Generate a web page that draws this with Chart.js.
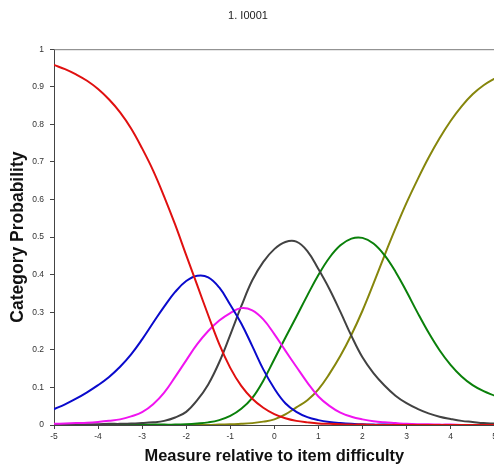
<!DOCTYPE html>
<html lang="en">
  <head>
    <meta charset="UTF-8" />
    <title>1. I0001 - Category Probability</title>
  </head>
  <style>
    * {
      margin: 0;
      padding: 0;
    }
    body {
      width: 494px;
      height: 470px;
      overflow: hidden;
      background: white;
    }
  </style>
  <body>
    <canvas id="myChart" width="500" height="470"></canvas>

    <script src="https://cdn.jsdelivr.net/npm/chart.js"></script>

    <script>
      // data block (step 0.25)
      const measures = [
        -5, -4.75, -4.5, -4.25, -4, -3.75, -3.5, -3.25, -3, -2.75, -2.5, -2.25, -2,
        -1.75, -1.5, -1.25, -1, -0.75, -0.5, -0.25, 0, 0.25, 0.5, 0.75, 1, 1.25, 1.5,
        1.75, 2, 2.25, 2.5, 2.75, 3, 3.25, 3.5, 3.75, 4, 4.25, 4.5, 4.75, 5
      ];
      const cat0 = [
        0.958, 0.947, 0.933, 0.916, 0.894, 0.866, 0.832, 0.789, 0.736, 0.677, 0.608,
        0.533, 0.452, 0.372, 0.292, 0.215, 0.152, 0.104, 0.07, 0.046, 0.029, 0.018,
        0.011, 0.007, 0.004, 0.003, 0.002, 0.001, 0.001, 0, 0, 0, 0, 0, 0, 0, 0, 0, 0,
        0, 0
      ];
      const cat1 = [
        0.042, 0.055, 0.07, 0.087, 0.106, 0.128, 0.155, 0.188, 0.228, 0.272, 0.315,
        0.354, 0.383, 0.397, 0.393, 0.366, 0.32, 0.27, 0.21, 0.148, 0.097, 0.058,
        0.035, 0.021, 0.013, 0.008, 0.005, 0.003, 0.002, 0.001, 0.001, 0, 0, 0, 0, 0,
        0, 0, 0, 0, 0
      ];
      const cat2 = [
        0.003, 0.004, 0.005, 0.006, 0.008, 0.011, 0.015, 0.023, 0.034, 0.055, 0.086,
        0.128, 0.172, 0.215, 0.25, 0.278, 0.298, 0.311, 0.305, 0.281, 0.242, 0.198,
        0.155, 0.113, 0.076, 0.051, 0.033, 0.022, 0.015, 0.01, 0.007, 0.005, 0.003,
        0.002, 0.002, 0.001, 0.001, 0, 0, 0, 0
      ];
      const cat3 = [
        0.001, 0.001, 0.001, 0.002, 0.002, 0.003, 0.003, 0.004, 0.005, 0.007, 0.011,
        0.02, 0.035, 0.066, 0.108, 0.167, 0.24, 0.316, 0.385, 0.434, 0.468, 0.487,
        0.488, 0.463, 0.415, 0.362, 0.301, 0.237, 0.18, 0.138, 0.105, 0.078, 0.058,
        0.043, 0.031, 0.022, 0.016, 0.011, 0.008, 0.005, 0.004
      ];
      const cat4 = [
        0, 0, 0, 0, 0, 0, 0, 0, 0, 0.001, 0.001, 0.001, 0.002, 0.004, 0.007, 0.013,
        0.024, 0.043, 0.072, 0.118, 0.175, 0.232, 0.288, 0.345, 0.399, 0.445, 0.478,
        0.496, 0.498, 0.483, 0.452, 0.408, 0.355, 0.299, 0.246, 0.199, 0.16, 0.129,
        0.106, 0.09, 0.078
      ];
      const cat5 = [
        0, 0, 0, 0, 0, 0, 0, 0, 0, 0, 0, 0, 0, 0, 0, 0.001, 0.002, 0.003, 0.005,
        0.009, 0.015, 0.028, 0.047, 0.066, 0.095, 0.136, 0.184, 0.24, 0.304, 0.376,
        0.451, 0.523, 0.591, 0.653, 0.711, 0.763, 0.809, 0.848, 0.88, 0.904, 0.922
      ];
      const seriesNames = ["0", "1", "2", "3", "4", "5"];
      const seriesValues = [cat0, cat1, cat2, cat3, cat4, cat5];
      const seriesColors = ["#e01010", "#0a0acc", "#f014f0", "#424242", "#0a800a", "#86860c"];

      const fontFamily = "'Liberation Sans', Arial, sans-serif";

      const data = {
        datasets: seriesValues.map((vals, i) => ({
          label: seriesNames[i],
          data: measures.map((x, j) => ({ x: x, y: vals[j] })),
          borderColor: seriesColors[i],
          borderWidth: 2,
          pointRadius: 0,
          tension: 0.4,
          fill: false
        }))
      };

      // top frame line plugin block
      const topLine = {
        id: "topLine",
        beforeDatasetsDraw: function (chart) {
          const {
            ctx,
            chartArea: { top, left, right }
          } = chart;
          ctx.save();
          ctx.strokeStyle = "#7a7a7a";
          ctx.lineWidth = 1;
          ctx.beginPath();
          ctx.moveTo(left, top + 0.5);
          ctx.lineTo(right, top + 0.5);
          ctx.stroke();
          ctx.restore();
        }
      };

      // config block
      const config = {
        type: "line",
        data,
        options: {
          responsive: false,
          animation: false,
          layout: { padding: { left: 0, right: 4, top: 0, bottom: 0 } },
          plugins: {
            legend: { display: false },
            tooltip: { enabled: false },
            title: {
              display: true,
              text: "1. I0001",
              color: "#222",
              font: { family: fontFamily, size: 11, weight: "normal" },
              padding: { top: 9, bottom: 27 }
            }
          },
          scales: {
            x: {
              type: "linear",
              min: -5,
              max: 5,
              afterFit: (s) => {
                s.height = 45;
              },
              ticks: {
                stepSize: 1,
                padding: 3,
                color: "#333",
                font: { family: fontFamily, size: 8.5 }
              },
              grid: { drawOnChartArea: false, tickLength: 4, color: "#444" },
              border: { color: "#444", width: 1 },
              title: {
                display: true,
                text: "Measure relative to item difficulty",
                color: "#111",
                font: { family: fontFamily, size: 16.4, weight: "bold" },
                padding: { top: 0, bottom: 4 }
              }
            },
            y: {
              min: 0,
              max: 1,
              afterFit: (s) => {
                s.width = 54;
              },
              ticks: {
                stepSize: 0.1,
                padding: 6,
                color: "#333",
                font: { family: fontFamily, size: 8.5 },
                callback: (v) => Math.round(v * 10) / 10
              },
              grid: { drawOnChartArea: false, tickLength: 4, color: "#444" },
              border: { color: "#444", width: 1 },
              title: {
                display: true,
                text: "Category Probability",
                color: "#111",
                font: { family: fontFamily, size: 17.5, weight: "bold" },
                padding: { top: 8, bottom: 0 }
              }
            }
          }
        },
        plugins: [topLine]
      };

      // init render block
      const myChart = new Chart(document.getElementById("myChart"), config);
    </script>
  </body>
</html>
